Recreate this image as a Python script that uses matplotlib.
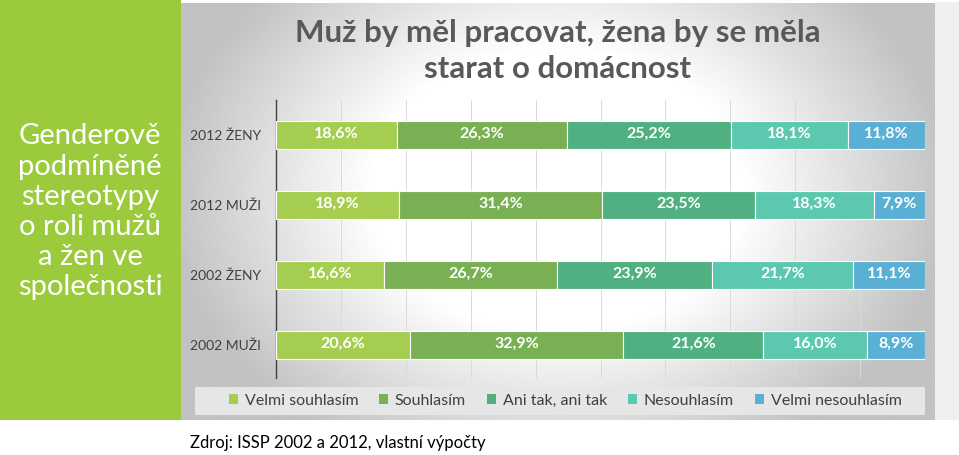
import numpy as np
import matplotlib
matplotlib.use("Agg")
import matplotlib.pyplot as plt
from matplotlib.patches import Patch, Rectangle

# data
groups = ["2012 ŽENY", "2012 MUŽI", "2002 ŽENY", "2002 MUŽI"]
answers = ["Velmi souhlasím", "Souhlasím", "Ani tak, ani tak",
           "Nesouhlasím", "Velmi nesouhlasím"]
velmi_souhlasim = [18.6, 18.9, 16.6, 20.6]
souhlasim = [26.3, 31.4, 26.7, 32.9]
ani_tak = [25.2, 23.5, 23.9, 21.6]
nesouhlasim = [18.1, 18.3, 21.7, 16.0]
velmi_nesouhlasim = [11.8, 7.9, 11.1, 8.9]
series = [velmi_souhlasim, souhlasim, ani_tak, nesouhlasim, velmi_nesouhlasim]
colors = ["#A5CD50", "#7AB054", "#50B082", "#5CC8B0", "#5AB0D4"]

title = "Muž by měl pracovat, žena by se měla\nstarat o domácnost"
side_text = "Genderově\npodmíněné\nstereotypy\no roli mužů\na žen ve\nspolečnosti"
source = "Zdroj: ISSP 2002 a 2012, vlastní výpočty"

plt.rcParams["font.family"] = ["Lato", "DejaVu Sans"]

W, H = 959, 455
fig = plt.figure(figsize=(W / 100, H / 100), dpi=100)
fig.patch.set_facecolor("white")

# green side panel
fig.patches.append(Rectangle((0, 35 / H), 181 / W, 420 / H, transform=fig.transFigure,
                             facecolor="#9BCB3C", edgecolor="none", zorder=0))
# light strip on the right
fig.patches.append(Rectangle((935 / W, 35 / H), 24 / W, 418 / H, transform=fig.transFigure,
                             facecolor="#EFEFEF", edgecolor="none", zorder=0))

# chart panel background (radial grey-white gradient)
bg = fig.add_axes([181 / W, 35 / H, 754 / W, 417 / H], zorder=0)
gx, gy = np.meshgrid(np.linspace(0, 1, 300), np.linspace(0, 1, 200))
d = np.sqrt(((gx - 0.5) / 0.55) ** 2 + ((gy - 0.45) / 0.75) ** 2)
shade = 1 - 0.24 * np.clip((d - 0.45) / 0.5, 0, 1)
bg.imshow(shade, cmap="gray", vmin=0, vmax=1, aspect="auto",
          extent=[0, 1, 0, 1], interpolation="bilinear")
bg.axis("off")

fig.text(90 / W, 1 - 212 / H, side_text, color="white", fontsize=21,
         ha="center", va="center", linespacing=1.2)

fig.text(558 / W, 1 - 51 / H, title, color="#595959", fontsize=22.5,
         fontweight="bold", ha="center", va="center", linespacing=1.38)

# bars
ax = fig.add_axes([276 / W, 77 / H, 649 / W, 278 / H], zorder=2)
ax.patch.set_alpha(0)
y = np.arange(len(groups))
left = np.zeros(len(groups))
for vals, col in zip(series, colors):
    bars = ax.barh(y, vals, left=left, height=0.39, color=col,
                   edgecolor="white", linewidth=0.8, zorder=3)
    for b, v in zip(bars, vals):
        ax.text(b.get_x() + b.get_width() / 2, b.get_y() + b.get_height() / 2 - 0.02,
                f"{v:.1f}%".replace(".", ","), color="white", fontsize=11.5,
                fontweight="bold", ha="center", va="center", zorder=4)
    left += np.array(vals)

ax.set_xlim(0, 100)
ax.set_ylim(3.47, -0.5)
ax.set_xticks(np.arange(10, 101, 10))
ax.xaxis.grid(True, color="#DADADA", linewidth=0.7)
ax.set_axisbelow(True)
ax.set_xticklabels([])
ax.tick_params(axis="both", length=0)
ax.set_yticks(y)
ax.set_yticklabels(groups, color="#404040", fontsize=10)
ax.tick_params(axis="y", pad=11)
for s in ["top", "right", "bottom"]:
    ax.spines[s].set_visible(False)
ax.spines["left"].set_color("#404040")
ax.spines["left"].set_linewidth(1.0)

# legend box
fig.patches.append(Rectangle((195 / W, 40 / H), 730 / W, 28 / H, transform=fig.transFigure,
                             facecolor="#E6E6E6", edgecolor="none", zorder=1))
handles = [Patch(facecolor=c, label=a) for c, a in zip(colors, answers)]
fig.legend(handles=handles, loc="center", bbox_to_anchor=(565 / W, 1 - 401 / H),
           ncol=5, frameon=False, fontsize=11.5, labelcolor="#404040",
           handlelength=0.6, handleheight=0.6, handletextpad=0.4,
           columnspacing=1.3)

fig.text(190 / W, 1 - 443 / H, source, color="black", fontsize=12,
         ha="left", va="center")

fig.savefig("out.png", dpi=100)
